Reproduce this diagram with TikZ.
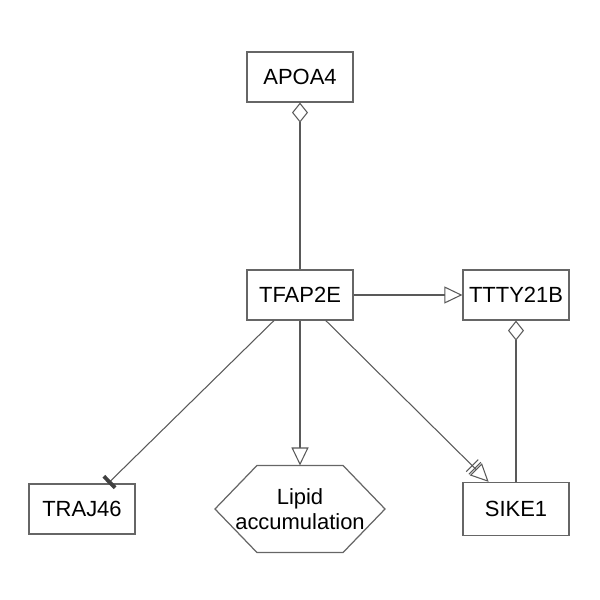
\documentclass[tikz,border=0pt]{standalone}
\usepackage{fontspec}
\setmainfont{Liberation Sans}
\usetikzlibrary{arrows.meta}
\begin{document}
\begin{tikzpicture}[semithick,
    gene/.style={rectangle,draw=black!60,line width=0.7pt,minimum width=2.12cm,minimum height=1cm,font=\fontsize{12.5}{15}\selectfont},
    process/.style={rectangle,minimum width=3.38cm,minimum height=1.72cm,inner sep=0pt,align=center,font=\fontsize{12.5}{15}\selectfont},
    hexline/.style={draw=black!60,line width=0.7pt},
    link/.style={draw=black!65,line width=0.6pt},
    activ/.style={link,-{Triangle[open,length=0.36cm,width=0.34cm]}},
    bind/.style={link,-{Diamond[open,length=0.4cm,width=0.32cm]}},
    inhib/.style={link,-{Bar[width=0.32cm,line width=2.2pt,color=black!75]}},
    modul/.style={link,-{Bar[width=0.34cm,sep=1.5pt]Bar[width=0.34cm,sep=0.5pt]Triangle[open,length=0.36cm,width=0.34cm]}}]
  \useasboundingbox (0,0) rectangle (12,12);
  \node[gene] at (6,10.46) (apoa4) {APOA4};
  \node[gene] at (6,6.1) (tfap2e) {TFAP2E};
  \node[gene] at (10.32,6.1) (ttty21b) {TTTY21B};
  \node[gene] at (1.64,1.82) (traj46) {TRAJ46};
  \node[process] at (6,1.82) (lipid) {Lipid\\[-1pt]accumulation};
  \node[gene,minimum height=1.06cm] at (10.32,1.82) (sike1) {SIKE1};
  % hexagon round the process node
  \draw[hexline] (lipid.west) -- ([xshift=0.84cm]lipid.north west) -- ([xshift=-0.84cm]lipid.north east)
    -- (lipid.east) -- ([xshift=-0.84cm]lipid.south east) -- ([xshift=0.84cm]lipid.south west) -- cycle;
  \draw[bind] (tfap2e) -- (apoa4);
  \draw[activ] (tfap2e) -- (ttty21b);
  \draw[bind] (sike1) -- (ttty21b);
  \draw[inhib] (tfap2e) -- (traj46);
  \draw[activ] (tfap2e) -- (lipid);
  \draw[modul] (tfap2e) -- (sike1);
\end{tikzpicture}
\end{document}
